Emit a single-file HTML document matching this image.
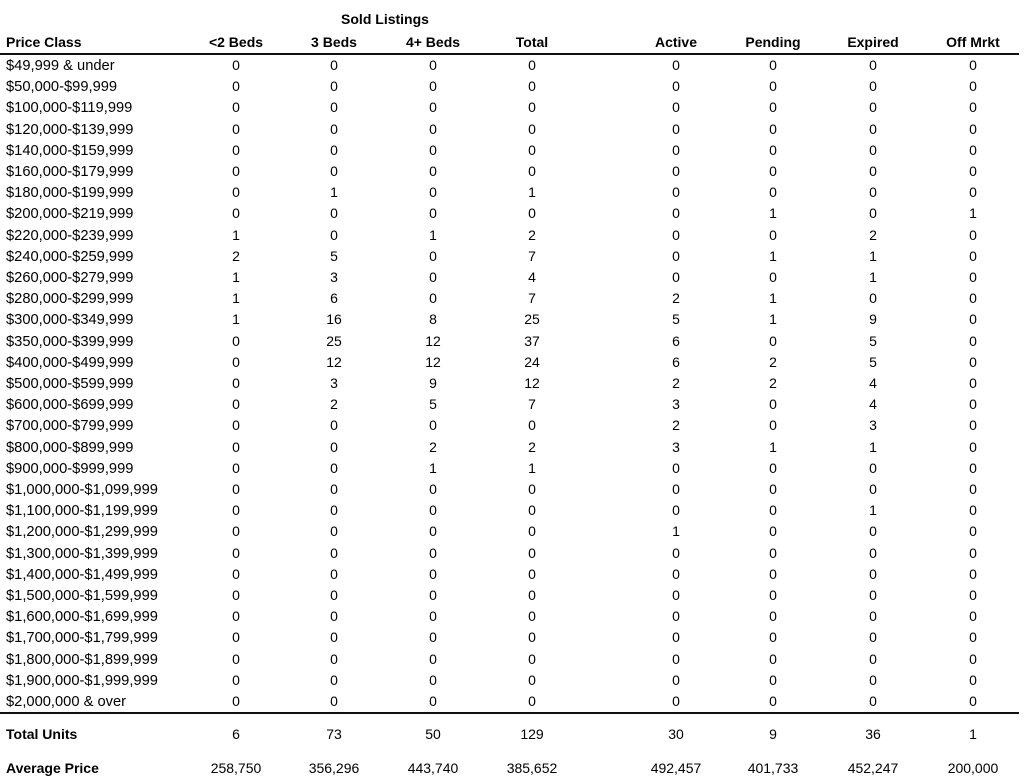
<!DOCTYPE html>
<html><head><meta charset="utf-8"><style>
body{margin:0;width:1024px;height:779px;background:#fff;position:relative;overflow:hidden;font-family:"Liberation Sans",Arial,sans-serif;font-size:14px;color:#000}
.r{position:absolute;left:0;width:1024px;height:16px;line-height:16px}
.r span{position:absolute;top:0;width:100px;text-align:center}
.r span.l{left:6px;top:1px;width:200px;text-align:left;font-size:14.7px}
.r.b span.l,.r span.l.b{font-size:14px;top:0}
.c1{left:186px}.c2{left:284px}.c3{left:383px}.c4{left:482px}.c5{left:626px}.c6{left:723px}.c7{left:823px}.c8{left:923px}
.b{font-weight:bold}
.line{position:absolute;left:0;width:1019px;height:2px;background:#111}
</style></head><body>
<div class="r b" style="top:11px"><span style="left:335px;width:100px">Sold Listings</span></div>
<div class="r b" style="top:34px"><span class="l">Price Class</span><span class="c1">&lt;2 Beds</span><span class="c2">3 Beds</span><span class="c3">4+ Beds</span><span class="c4">Total</span><span class="c5">Active</span><span class="c6">Pending</span><span class="c7">Expired</span><span class="c8">Off Mrkt</span></div>
<div class="line" style="top:53px"></div>
<div class="r" style="top:57px"><span class="l">$49,999 &amp; under</span><span class="c1">0</span><span class="c2">0</span><span class="c3">0</span><span class="c4">0</span><span class="c5">0</span><span class="c6">0</span><span class="c7">0</span><span class="c8">0</span></div>
<div class="r" style="top:78px"><span class="l">$50,000-$99,999</span><span class="c1">0</span><span class="c2">0</span><span class="c3">0</span><span class="c4">0</span><span class="c5">0</span><span class="c6">0</span><span class="c7">0</span><span class="c8">0</span></div>
<div class="r" style="top:99px"><span class="l">$100,000-$119,999</span><span class="c1">0</span><span class="c2">0</span><span class="c3">0</span><span class="c4">0</span><span class="c5">0</span><span class="c6">0</span><span class="c7">0</span><span class="c8">0</span></div>
<div class="r" style="top:121px"><span class="l">$120,000-$139,999</span><span class="c1">0</span><span class="c2">0</span><span class="c3">0</span><span class="c4">0</span><span class="c5">0</span><span class="c6">0</span><span class="c7">0</span><span class="c8">0</span></div>
<div class="r" style="top:142px"><span class="l">$140,000-$159,999</span><span class="c1">0</span><span class="c2">0</span><span class="c3">0</span><span class="c4">0</span><span class="c5">0</span><span class="c6">0</span><span class="c7">0</span><span class="c8">0</span></div>
<div class="r" style="top:163px"><span class="l">$160,000-$179,999</span><span class="c1">0</span><span class="c2">0</span><span class="c3">0</span><span class="c4">0</span><span class="c5">0</span><span class="c6">0</span><span class="c7">0</span><span class="c8">0</span></div>
<div class="r" style="top:184px"><span class="l">$180,000-$199,999</span><span class="c1">0</span><span class="c2">1</span><span class="c3">0</span><span class="c4">1</span><span class="c5">0</span><span class="c6">0</span><span class="c7">0</span><span class="c8">0</span></div>
<div class="r" style="top:205px"><span class="l">$200,000-$219,999</span><span class="c1">0</span><span class="c2">0</span><span class="c3">0</span><span class="c4">0</span><span class="c5">0</span><span class="c6">1</span><span class="c7">0</span><span class="c8">1</span></div>
<div class="r" style="top:227px"><span class="l">$220,000-$239,999</span><span class="c1">1</span><span class="c2">0</span><span class="c3">1</span><span class="c4">2</span><span class="c5">0</span><span class="c6">0</span><span class="c7">2</span><span class="c8">0</span></div>
<div class="r" style="top:248px"><span class="l">$240,000-$259,999</span><span class="c1">2</span><span class="c2">5</span><span class="c3">0</span><span class="c4">7</span><span class="c5">0</span><span class="c6">1</span><span class="c7">1</span><span class="c8">0</span></div>
<div class="r" style="top:269px"><span class="l">$260,000-$279,999</span><span class="c1">1</span><span class="c2">3</span><span class="c3">0</span><span class="c4">4</span><span class="c5">0</span><span class="c6">0</span><span class="c7">1</span><span class="c8">0</span></div>
<div class="r" style="top:290px"><span class="l">$280,000-$299,999</span><span class="c1">1</span><span class="c2">6</span><span class="c3">0</span><span class="c4">7</span><span class="c5">2</span><span class="c6">1</span><span class="c7">0</span><span class="c8">0</span></div>
<div class="r" style="top:311px"><span class="l">$300,000-$349,999</span><span class="c1">1</span><span class="c2">16</span><span class="c3">8</span><span class="c4">25</span><span class="c5">5</span><span class="c6">1</span><span class="c7">9</span><span class="c8">0</span></div>
<div class="r" style="top:333px"><span class="l">$350,000-$399,999</span><span class="c1">0</span><span class="c2">25</span><span class="c3">12</span><span class="c4">37</span><span class="c5">6</span><span class="c6">0</span><span class="c7">5</span><span class="c8">0</span></div>
<div class="r" style="top:354px"><span class="l">$400,000-$499,999</span><span class="c1">0</span><span class="c2">12</span><span class="c3">12</span><span class="c4">24</span><span class="c5">6</span><span class="c6">2</span><span class="c7">5</span><span class="c8">0</span></div>
<div class="r" style="top:375px"><span class="l">$500,000-$599,999</span><span class="c1">0</span><span class="c2">3</span><span class="c3">9</span><span class="c4">12</span><span class="c5">2</span><span class="c6">2</span><span class="c7">4</span><span class="c8">0</span></div>
<div class="r" style="top:396px"><span class="l">$600,000-$699,999</span><span class="c1">0</span><span class="c2">2</span><span class="c3">5</span><span class="c4">7</span><span class="c5">3</span><span class="c6">0</span><span class="c7">4</span><span class="c8">0</span></div>
<div class="r" style="top:417px"><span class="l">$700,000-$799,999</span><span class="c1">0</span><span class="c2">0</span><span class="c3">0</span><span class="c4">0</span><span class="c5">2</span><span class="c6">0</span><span class="c7">3</span><span class="c8">0</span></div>
<div class="r" style="top:439px"><span class="l">$800,000-$899,999</span><span class="c1">0</span><span class="c2">0</span><span class="c3">2</span><span class="c4">2</span><span class="c5">3</span><span class="c6">1</span><span class="c7">1</span><span class="c8">0</span></div>
<div class="r" style="top:460px"><span class="l">$900,000-$999,999</span><span class="c1">0</span><span class="c2">0</span><span class="c3">1</span><span class="c4">1</span><span class="c5">0</span><span class="c6">0</span><span class="c7">0</span><span class="c8">0</span></div>
<div class="r" style="top:481px"><span class="l">$1,000,000-$1,099,999</span><span class="c1">0</span><span class="c2">0</span><span class="c3">0</span><span class="c4">0</span><span class="c5">0</span><span class="c6">0</span><span class="c7">0</span><span class="c8">0</span></div>
<div class="r" style="top:502px"><span class="l">$1,100,000-$1,199,999</span><span class="c1">0</span><span class="c2">0</span><span class="c3">0</span><span class="c4">0</span><span class="c5">0</span><span class="c6">0</span><span class="c7">1</span><span class="c8">0</span></div>
<div class="r" style="top:523px"><span class="l">$1,200,000-$1,299,999</span><span class="c1">0</span><span class="c2">0</span><span class="c3">0</span><span class="c4">0</span><span class="c5">1</span><span class="c6">0</span><span class="c7">0</span><span class="c8">0</span></div>
<div class="r" style="top:545px"><span class="l">$1,300,000-$1,399,999</span><span class="c1">0</span><span class="c2">0</span><span class="c3">0</span><span class="c4">0</span><span class="c5">0</span><span class="c6">0</span><span class="c7">0</span><span class="c8">0</span></div>
<div class="r" style="top:566px"><span class="l">$1,400,000-$1,499,999</span><span class="c1">0</span><span class="c2">0</span><span class="c3">0</span><span class="c4">0</span><span class="c5">0</span><span class="c6">0</span><span class="c7">0</span><span class="c8">0</span></div>
<div class="r" style="top:587px"><span class="l">$1,500,000-$1,599,999</span><span class="c1">0</span><span class="c2">0</span><span class="c3">0</span><span class="c4">0</span><span class="c5">0</span><span class="c6">0</span><span class="c7">0</span><span class="c8">0</span></div>
<div class="r" style="top:608px"><span class="l">$1,600,000-$1,699,999</span><span class="c1">0</span><span class="c2">0</span><span class="c3">0</span><span class="c4">0</span><span class="c5">0</span><span class="c6">0</span><span class="c7">0</span><span class="c8">0</span></div>
<div class="r" style="top:629px"><span class="l">$1,700,000-$1,799,999</span><span class="c1">0</span><span class="c2">0</span><span class="c3">0</span><span class="c4">0</span><span class="c5">0</span><span class="c6">0</span><span class="c7">0</span><span class="c8">0</span></div>
<div class="r" style="top:651px"><span class="l">$1,800,000-$1,899,999</span><span class="c1">0</span><span class="c2">0</span><span class="c3">0</span><span class="c4">0</span><span class="c5">0</span><span class="c6">0</span><span class="c7">0</span><span class="c8">0</span></div>
<div class="r" style="top:672px"><span class="l">$1,900,000-$1,999,999</span><span class="c1">0</span><span class="c2">0</span><span class="c3">0</span><span class="c4">0</span><span class="c5">0</span><span class="c6">0</span><span class="c7">0</span><span class="c8">0</span></div>
<div class="r" style="top:693px"><span class="l">$2,000,000 &amp; over</span><span class="c1">0</span><span class="c2">0</span><span class="c3">0</span><span class="c4">0</span><span class="c5">0</span><span class="c6">0</span><span class="c7">0</span><span class="c8">0</span></div>
<div class="line" style="top:712px"></div>
<div class="r" style="top:726px"><span class="l b">Total Units</span><span class="c1">6</span><span class="c2">73</span><span class="c3">50</span><span class="c4">129</span><span class="c5">30</span><span class="c6">9</span><span class="c7">36</span><span class="c8">1</span></div>
<div class="r" style="top:760px"><span class="l b">Average Price</span><span class="c1">258,750</span><span class="c2">356,296</span><span class="c3">443,740</span><span class="c4">385,652</span><span class="c5">492,457</span><span class="c6">401,733</span><span class="c7">452,247</span><span class="c8">200,000</span></div>
</body></html>
